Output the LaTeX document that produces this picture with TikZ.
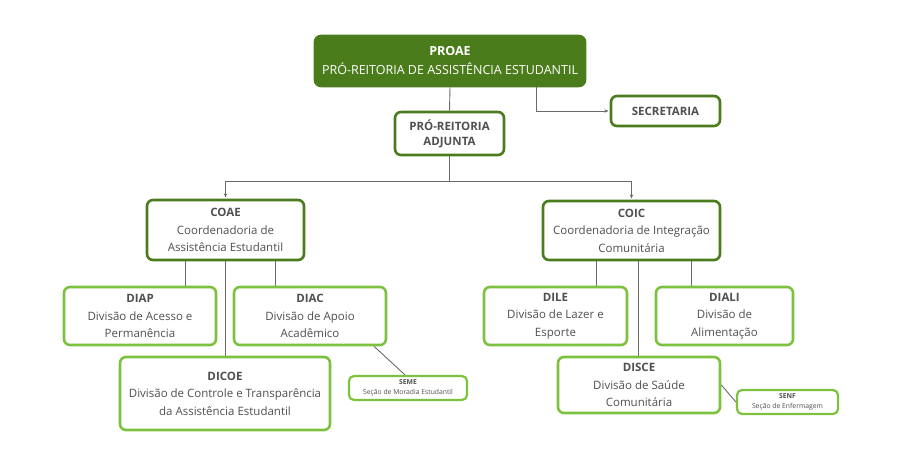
\documentclass[tikz,border=0pt]{standalone}
\usepackage{fontspec}
\setmainfont{Open Sans}
\usetikzlibrary{arrows.meta,backgrounds}
\definecolor{proagreen}{HTML}{4B7C1B}
\definecolor{leafgreen}{HTML}{7DC23E}
\definecolor{inkgray}{HTML}{505050}
\definecolor{wiregray}{HTML}{6A6A6A}
\begin{document}
\begin{tikzpicture}[x=1pt,y=-1pt, every node/.style={font=\fontsize{11.5}{17.5}\selectfont,text=inkgray},
  head/.style={draw=proagreen,line width=2.6pt,rounded corners=6pt,fill=white,align=center,inner sep=0pt},
  unit/.style={draw=leafgreen,line width=2.6pt,rounded corners=6pt,fill=white,align=center,inner sep=0pt},
  small/.style={unit,line width=2.2pt,rounded corners=5pt,font=\fontsize{6.8}{10}\selectfont},
  wire/.style={draw=wiregray,line width=0.9pt},
  arr/.style={wire,-{Stealth[length=4pt,width=3.5pt]},shorten >=1.3pt}]
  \useasboundingbox (0,0) rectangle (900,473);
  % top level
  \node[head,fill=proagreen,text=white,minimum width=270pt,minimum height=50pt,
    font=\fontsize{12.5}{19}\selectfont] (proae) at (450,61)
    {\textbf{PROAE}\\PRÓ-REITORIA DE ASSISTÊNCIA ESTUDANTIL};
  \node[head,minimum width=109pt,minimum height=30pt] (sec) at (665.5,111) {\textbf{SECRETARIA}};
  \node[head,minimum width=109pt,minimum height=43pt,font=\fontsize{11.5}{15}\selectfont] (adj) at (449.5,133.5)
    {\textbf{PRÓ-REITORIA}\\\textbf{ADJUNTA}};
  % coordinations
  \node[head,minimum width=157pt,minimum height=60pt] (coae) at (225.5,230)
    {\textbf{COAE}\\Coordenadoria de\\Assistência Estudantil};
  \node[head,minimum width=177pt,minimum height=59pt] (coic) at (631.5,230.5)
    {\textbf{COIC}\\Coordenadoria de Integração\\Comunitária};
  % divisions under COAE
  \node[unit,minimum width=152pt,minimum height=58pt] (diap) at (140,316)
    {\textbf{DIAP}\\Divisão de Acesso e\\Permanência};
  \node[unit,minimum width=152pt,minimum height=58pt] (diac) at (310,316)
    {\textbf{DIAC}\\Divisão de Apoio\\Acadêmico};
  \node[unit,minimum width=210pt,minimum height=73pt] (dicoe) at (225,393.5)
    {\textbf{DICOE}\\Divisão de Controle e Transparência\\da Assistência Estudantil};
  \node[small,minimum width=118pt,minimum height=24pt] (seme) at (408,388)
    {\textbf{SEME}\\Seção de Moradia Estudantil};
  % divisions under COIC
  \node[unit,minimum width=143pt,minimum height=58pt] (dile) at (555.5,316)
    {\textbf{DILE}\\Divisão de Lazer e\\Esporte};
  \node[unit,minimum width=137pt,minimum height=58pt] (diali) at (724.5,316)
    {\textbf{DIALI}\\Divisão de\\Alimentação};
  \node[unit,minimum width=162pt,minimum height=56pt] (disce) at (639,385)
    {\textbf{DISCE}\\Divisão de Saúde\\Comunitária};
  \node[small,minimum width=101pt,minimum height=24pt] (senf) at (787.5,402)
    {\textbf{SENF}\\Seção de Enfermagem};
  % connectors
  \begin{scope}[on background layer]
    \draw[wire] (proae.south) -- (adj.north);
    \draw[arr] ([xshift=86pt]proae.south) |- (sec.west);
    \draw[arr] (adj.south) -- ++(0,25) -| (coae.north);
    \draw[arr] (adj.south) -- ++(0,25) -| (coic.north);
    \draw[wire] ([xshift=-40pt]coae.south) -- ([xshift=-40pt]coae.south |- diap.north);
    \draw[wire] ([xshift=50pt]coae.south) -- ([xshift=50pt]coae.south |- diac.north);
    \draw[wire] (coae.south) -- (coae.south |- dicoe.north);
    \draw[wire] ([xshift=64pt]diac.south) -- ([xshift=-3pt]seme.north);
    \draw[wire] ([xshift=-35pt]coic.south) -- ([xshift=-35pt]coic.south |- dile.north);
    \draw[wire] ([xshift=60pt]coic.south) -- ([xshift=60pt]coic.south |- diali.north);
    \draw[wire] ([xshift=7pt]coic.south) -- ([xshift=7pt]coic.south |- disce.north);
    \draw[wire] (disce.east) -- (senf.west);
  \end{scope}
\end{tikzpicture}
\end{document}
